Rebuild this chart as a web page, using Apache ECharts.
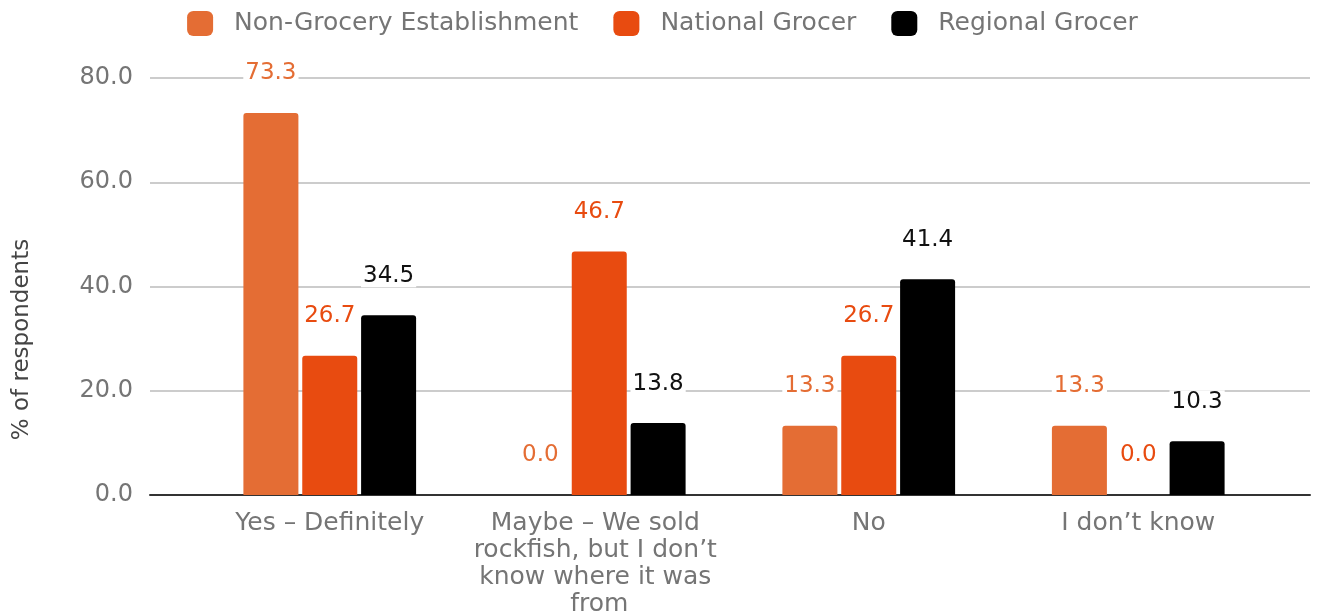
<!DOCTYPE html>
<html>
<head>
<meta charset="utf-8">
<script src="https://cdn.jsdelivr.net/npm/echarts@6/dist/echarts.min.js"></script>
<style>
html,body{margin:0;padding:0;background:#fff;}
#chart{width:1325px;height:613px;}
</style>
</head>
<body>
<div id="chart"></div>
<script>
const categories = ["Yes – Definitely", "Maybe – We sold rockfish, but I don’t know where it was from", "No", "I don’t know"];
const seriesNames = ["Non-Grocery Establishment", "National Grocer", "Regional Grocer"];
const nonGrocery = [73.3, 0.0, 13.3, 13.3];
const nationalGrocer = [26.7, 46.7, 26.7, 0.0];
const regionalGrocer = [34.5, 13.8, 41.4, 10.3];
const yTicks = [0, 20, 40, 60, 80];

const barColors = ["#E46D34", "#E84B10", "#000000"];
const labelColors = ["#E46D34", "#E84B10", "#111111"];
const FONT = "DejaVu Sans";

const chart = echarts.init(document.getElementById('chart'), null, {renderer: 'canvas'});

function makeSeries(name, values, idx) {
  return {
    name: name,
    type: 'bar',
    xAxisIndex: 1,
    yAxisIndex: 1,
    data: values,
    barWidth: 55,
    barGap: '7%',
    itemStyle: {color: barColors[idx], borderRadius: [3, 3, 0, 0]},
    label: {
      show: true,
      position: 'top',
      distance: 28,
      formatter: p => p.value.toFixed(1),
      color: labelColors[idx],
      fontFamily: FONT,
      fontSize: 23,
      backgroundColor: '#fff',
      padding: [0, 2]
    }
  };
}

const option = {
  animation: false,
  backgroundColor: '#fff',
  textStyle: {fontFamily: FONT},
  legend: {
    top: 6,
    left: 'center',
    itemWidth: 26,
    itemHeight: 25,
    itemGap: 35,
    icon: 'roundRect',
    textStyle: {fontFamily: FONT, fontSize: 25, color: '#757575', padding: [0, 0, 0, 16]},
    data: seriesNames
  },
  grid: [
    {left: 150, right: 15, top: 78, bottom: 118, containLabel: false, outerBoundsMode: 'none'},
    {left: 195, right: 52, top: 78, bottom: 118, containLabel: false, outerBoundsMode: 'none'}
  ],
  xAxis: [
    {
      gridIndex: 0, type: 'category', data: categories,
      axisLine: {show: true, lineStyle: {color: '#333', width: 2}},
      axisTick: {show: false}, axisLabel: {show: false}, splitLine: {show: false}
    },
    {
      gridIndex: 1, type: 'category', data: categories,
      axisLine: {show: false}, axisTick: {show: false}, splitLine: {show: false},
      axisLabel: {
        interval: 0, margin: 15, fontFamily: FONT, fontSize: 25, color: '#757575',
        lineHeight: 27, width: 270, overflow: 'break', align: 'center'
      }
    }
  ],
  yAxis: [
    {
      gridIndex: 0, type: 'value', min: yTicks[0], max: yTicks[yTicks.length - 1], interval: 20,
      name: '% of respondents', nameLocation: 'middle', nameGap: 116,
      nameTextStyle: {fontFamily: FONT, fontSize: 23, color: '#444', padding: [0, 106, 0, 0]},
      axisLine: {show: false}, axisTick: {show: false},
      axisLabel: {fontFamily: FONT, fontSize: 24, color: '#757575', margin: 17, formatter: v => v.toFixed(1)},
      splitLine: {show: true, lineStyle: {color: '#cccccc', width: 2}}
    },
    {
      gridIndex: 1, type: 'value', min: yTicks[0], max: yTicks[yTicks.length - 1], interval: 20,
      show: false, splitLine: {show: false}
    }
  ],
  series: [
    makeSeries(seriesNames[0], nonGrocery, 0),
    makeSeries(seriesNames[1], nationalGrocer, 1),
    makeSeries(seriesNames[2], regionalGrocer, 2)
  ]
};
chart.setOption(option);
</script>
</body>
</html>
